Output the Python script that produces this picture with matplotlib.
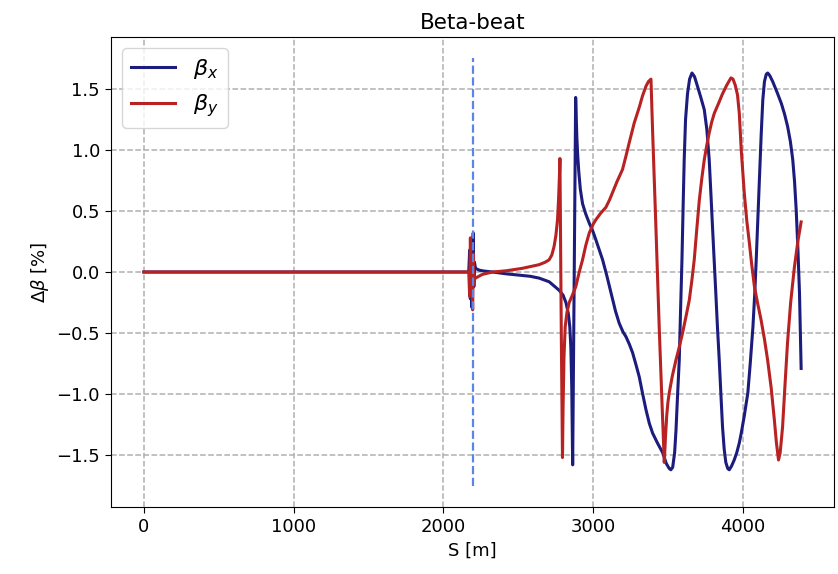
import matplotlib
matplotlib.use("Agg")
import matplotlib.pyplot as plt

# S positions [m] and beta-beat values [%]
s_x = [0, 2170, 2176, 2181, 2186, 2191, 2196, 2200, 2204, 2208, 2215, 2240, 2270, 2330,
       2420, 2500, 2580, 2640, 2707, 2774, 2800, 2819, 2835, 2845, 2852, 2858, 2864, 2884,
       2892, 2898, 2905, 2915, 2930, 2950, 2975, 3000, 3020, 3042, 3064, 3090, 3120, 3150,
       3175, 3200, 3220, 3242, 3264, 3287, 3309, 3330, 3354, 3376, 3398, 3430, 3465, 3490,
       3509, 3520, 3532, 3545, 3554, 3565, 3576, 3585, 3594, 3602, 3609, 3618, 3631, 3645,
       3661, 3678, 3698, 3720, 3743, 3760, 3776, 3787, 3798, 3809, 3820, 3831, 3843, 3854,
       3865, 3876, 3887, 3900, 3910, 3925, 3943, 3960, 3977, 3990, 4010, 4034, 4050, 4068,
       4080, 4090, 4101, 4112, 4123, 4134, 4145, 4157, 4167, 4180, 4200, 4230, 4258, 4280,
       4300, 4318, 4334, 4346, 4357, 4368, 4379, 4390]
beta_x = [0.0, 0.0, 0.18, -0.22, 0.12, -0.29, 0.2, 0.32, -0.12, 0.08, 0.03, 0.015, 0.008, 0.0,
          -0.015, -0.025, -0.035, -0.05, -0.08, -0.15, -0.19, -0.25, -0.34, -0.45, -0.62, -0.95, -1.58, 1.43,
          1.1, 0.95, 0.82, 0.68, 0.56, 0.48, 0.40, 0.33, 0.26, 0.18, 0.10, -0.02, -0.17, -0.32,
          -0.42, -0.49, -0.53, -0.59, -0.66, -0.76, -0.86, -0.99, -1.13, -1.24, -1.32, -1.40, -1.48, -1.57,
          -1.61, -1.62, -1.60, -1.48, -1.30, -1.0, -0.72, -0.3, 0.10, 0.55, 0.92, 1.25, 1.46, 1.58,
          1.63, 1.60, 1.52, 1.43, 1.33, 1.17, 0.92, 0.65, 0.37, 0.10, -0.17, -0.45, -0.72, -1.0,
          -1.27, -1.45, -1.56, -1.61, -1.62, -1.59, -1.54, -1.48, -1.40, -1.32, -1.18, -0.99, -0.75, -0.45,
          -0.18, 0.10, 0.44, 0.78, 1.12, 1.41, 1.56, 1.62, 1.63, 1.61, 1.56, 1.47, 1.38, 1.29,
          1.19, 1.07, 0.92, 0.74, 0.51, 0.20, -0.17, -0.79]

s_y = [0, 2170, 2176, 2181, 2186, 2191, 2196, 2200, 2204, 2208, 2215, 2260, 2330, 2420,
       2527, 2640, 2680, 2707, 2725, 2740, 2752, 2763, 2770, 2776, 2779, 2783, 2788, 2796,
       2800, 2806, 2814, 2826, 2841, 2862, 2885, 2908, 2930, 2952, 2975, 3000, 3020, 3050,
       3086, 3110, 3130, 3160, 3197, 3220, 3242, 3275, 3309, 3330, 3353, 3370, 3387, 3398,
       3420, 3442, 3460, 3476, 3484, 3492, 3500, 3509, 3530, 3554, 3575, 3598, 3620, 3643,
       3660, 3676, 3693, 3710, 3727, 3743, 3760, 3776, 3793, 3810, 3838, 3865, 3893, 3921,
       3935, 3950, 3965, 3977, 3990, 4010, 4027, 4044, 4060, 4078, 4100, 4122, 4145, 4166,
       4190, 4211, 4225, 4239, 4250, 4266, 4282, 4299, 4320, 4345, 4368, 4390]
beta_y = [0.0, 0.0, -0.2, 0.28, -0.15, 0.1, -0.31, 0.15, -0.1, -0.06, -0.05, -0.02, 0.0, 0.01,
          0.03, 0.06, 0.08, 0.10, 0.14, 0.21, 0.30, 0.43, 0.60, 0.80, 0.93, 0.30, -0.50, -1.52,
          -1.10, -0.70, -0.45, -0.33, -0.25, -0.19, -0.12, 0.0, 0.10, 0.22, 0.32, 0.39, 0.43, 0.48,
          0.53, 0.59, 0.65, 0.74, 0.84, 0.95, 1.06, 1.22, 1.35, 1.44, 1.52, 1.56, 1.58, 1.15,
          0.37, -0.45, -1.05, -1.56, -1.35, -1.18, -1.07, -0.99, -0.85, -0.72, -0.62, -0.50, -0.37, -0.23,
          -0.07, 0.10, 0.35, 0.59, 0.77, 0.92, 1.04, 1.14, 1.23, 1.30, 1.38, 1.46, 1.53, 1.59,
          1.58, 1.53, 1.45, 1.30, 1.00, 0.65, 0.42, 0.24, 0.06, -0.12, -0.26, -0.39, -0.55, -0.72,
          -0.95, -1.21, -1.40, -1.54, -1.48, -1.27, -0.93, -0.58, -0.25, 0.04, 0.25, 0.41]

marker_s = 2200
marker_lo, marker_hi = -1.75, 1.75

fig = plt.figure(figsize=(8.38, 5.74), dpi=100)
ax = fig.add_axes([111/838, 1 - 507/574, (834 - 111)/838, (507 - 37)/574])

ax.plot(s_x, beta_x, color='#1c1c7c', lw=2.2, label=r'$\beta_x$')
ax.plot(s_y, beta_y, color='#b82222', lw=2.2, label=r'$\beta_y$')
ax.vlines(marker_s, marker_lo, marker_hi, colors='#5b86e5', linestyles='--', lw=1.6)

ax.grid(True, linestyle='--', color='#b0b0b0', lw=1.1)
ax.set_axisbelow(True)
ax.set_xticks([0, 1000, 2000, 3000, 4000])
ax.set_yticks([-1.5, -1.0, -0.5, 0.0, 0.5, 1.0, 1.5])
ax.tick_params(labelsize=13, length=4.5)
ax.set_xlabel('S [m]', fontsize=13)
ax.set_ylabel(r'$\Delta\beta$ [%]', fontsize=13)
ax.set_title('Beta-beat', fontsize=15.5)
ax.legend(loc='upper left', fontsize=16)

fig.savefig('out.png', dpi=100)
